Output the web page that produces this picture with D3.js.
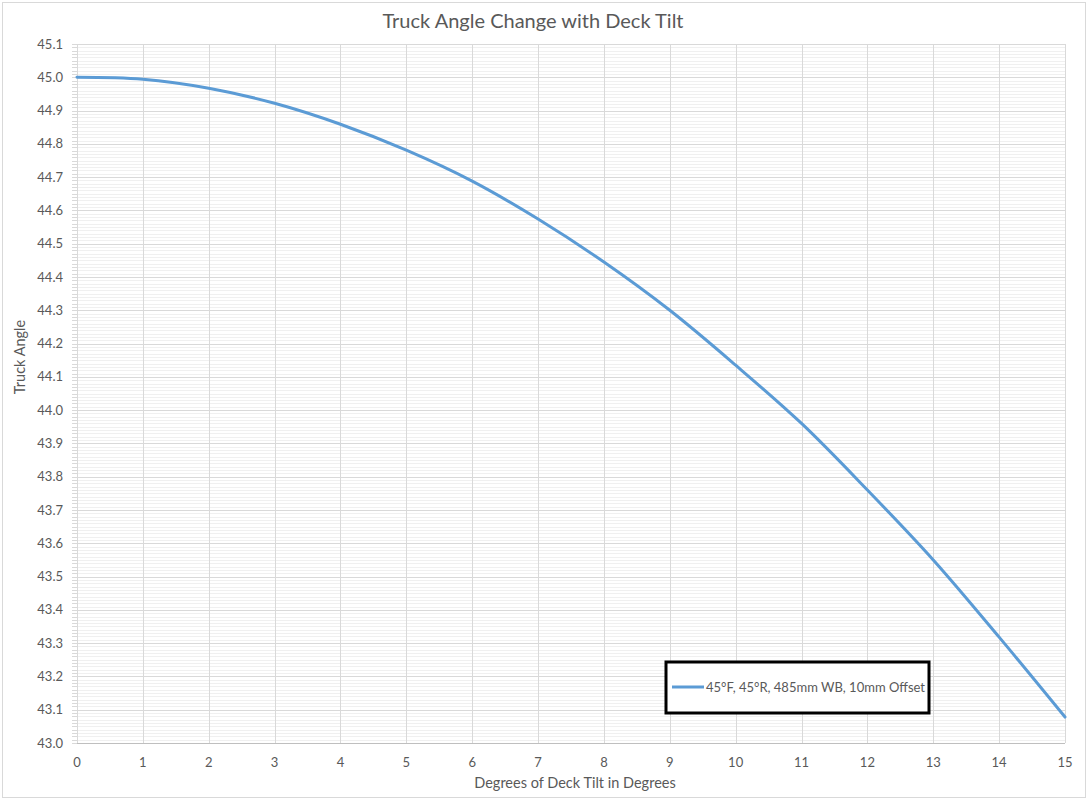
<!DOCTYPE html>
<html>
<head>
<meta charset="utf-8">
<script src="https://cdn.jsdelivr.net/npm/d3@7"></script>
<style>
  body { margin: 0; background: #fff; }
  text { font-family: Lato, "Open Sans", sans-serif; fill: #595959; }
</style>
</head>
<body>
<div id="chart"></div>
<script>
const tilt = [0, 1, 2, 3, 4, 5, 6, 7, 8, 9, 10, 11, 12, 13, 14, 15];
const truckAngle = [45.0, 44.994, 44.967, 44.922, 44.859, 44.781, 44.688, 44.574,
    44.445, 44.30, 44.135, 43.96, 43.76, 43.55, 43.318, 43.078];
const xTicks = d3.range(0, 16, 1);
const yTicks = d3.range(0, 22).map(i => +(43 + i * 0.1).toFixed(1));
const yMinor = d3.range(0, 211).map(i => +(43 + i * 0.01).toFixed(2));
const seriesName = '45°F, 45°R, 485mm WB, 10mm Offset';
const chartTitle = 'Truck Angle Change with Deck Tilt';

const width = 1088, height = 800;
const plot = { left: 77, right: 1065, top: 44, bottom: 743 };

const svg = d3.select('#chart').append('svg')
    .attr('width', width)
    .attr('height', height);

// outer chart border
svg.append('rect')
    .attr('x', 2.5).attr('y', 2.5)
    .attr('width', width - 5).attr('height', height - 5)
    .attr('fill', '#fff')
    .attr('stroke', '#d9d9d9');

const x = d3.scaleLinear().domain([0, 15]).range([plot.left, plot.right]);
const y = d3.scaleLinear().domain([43, 45.1]).range([plot.bottom, plot.top]);

const g = svg.append('g');

// minor horizontal gridlines
g.selectAll('.minor')
    .data(yMinor)
  .enter().append('line')
    .attr('x1', plot.left).attr('x2', plot.right)
    .attr('y1', d => Math.round(y(d)) + 0.5)
    .attr('y2', d => Math.round(y(d)) + 0.5)
    .attr('stroke', '#f0f0f0');

// minor tick marks on y axis
g.selectAll('.minortick')
    .data(yMinor)
  .enter().append('line')
    .attr('x1', plot.left - 5).attr('x2', plot.left)
    .attr('y1', d => Math.round(y(d)) + 0.5)
    .attr('y2', d => Math.round(y(d)) + 0.5)
    .attr('stroke', '#d9d9d9');

// major horizontal gridlines
g.selectAll('.major')
    .data(yTicks)
  .enter().append('line')
    .attr('x1', plot.left).attr('x2', plot.right)
    .attr('y1', d => Math.round(y(d)) + 0.5)
    .attr('y2', d => Math.round(y(d)) + 0.5)
    .attr('stroke', '#d9d9d9');

// vertical gridlines
g.selectAll('.vgrid')
    .data(xTicks)
  .enter().append('line')
    .attr('x1', d => Math.round(x(d)) + 0.5)
    .attr('x2', d => Math.round(x(d)) + 0.5)
    .attr('y1', plot.top).attr('y2', plot.bottom)
    .attr('stroke', '#d9d9d9');

// y axis line
g.append('line')
    .attr('x1', plot.left + 0.5).attr('x2', plot.left + 0.5)
    .attr('y1', plot.top).attr('y2', plot.bottom)
    .attr('stroke', '#d9d9d9');

// x axis line
g.append('line')
    .attr('x1', plot.left).attr('x2', plot.right)
    .attr('y1', plot.bottom + 0.5).attr('y2', plot.bottom + 0.5)
    .attr('stroke', '#bfbfbf');

// y tick labels
g.selectAll('.ylab')
    .data(yTicks)
  .enter().append('text')
    .attr('x', 63)
    .attr('y', d => y(d))
    .attr('dy', '0.35em')
    .attr('text-anchor', 'end')
    .attr('font-size', 13)
    .text(d => d.toFixed(1));

// x tick labels
g.selectAll('.xlab')
    .data(xTicks)
  .enter().append('text')
    .attr('x', d => x(d))
    .attr('y', 767)
    .attr('text-anchor', 'middle')
    .attr('font-size', 13)
    .text(d => d);

// data line
const line = d3.line()
    .x((d, i) => x(tilt[i]))
    .y(d => y(d))
    .curve(d3.curveCatmullRom);

g.append('path')
    .datum(truckAngle)
    .attr('d', line)
    .attr('fill', 'none')
    .attr('stroke', '#5b9bd5')
    .attr('stroke-width', 3)
    .attr('stroke-linecap', 'round');

// title
svg.append('text')
    .attr('x', 533).attr('y', 28)
    .attr('text-anchor', 'middle')
    .attr('font-size', 20)
    .text(chartTitle);

// axis titles
svg.append('text')
    .attr('x', 575).attr('y', 788)
    .attr('text-anchor', 'middle')
    .attr('font-size', 14.5)
    .text('Degrees of Deck Tilt in Degrees');

svg.append('text')
    .attr('transform', 'translate(25,' + 357 + ') rotate(-90)')
    .attr('text-anchor', 'middle')
    .attr('font-size', 14.5)
    .text('Truck Angle');

// legend
const legend = svg.append('g').attr('transform', 'translate(666,662)');
legend.append('rect')
    .attr('width', 263).attr('height', 51)
    .attr('fill', '#fff')
    .attr('stroke', '#000')
    .attr('stroke-width', 3);
legend.append('line')
    .attr('x1', 6).attr('x2', 38)
    .attr('y1', 25).attr('y2', 25)
    .attr('stroke', '#5b9bd5')
    .attr('stroke-width', 3);
legend.append('text')
    .attr('x', 40).attr('y', 25)
    .attr('dy', '0.35em')
    .attr('font-size', 13)
    .text(seriesName);
</script>
</body>
</html>
